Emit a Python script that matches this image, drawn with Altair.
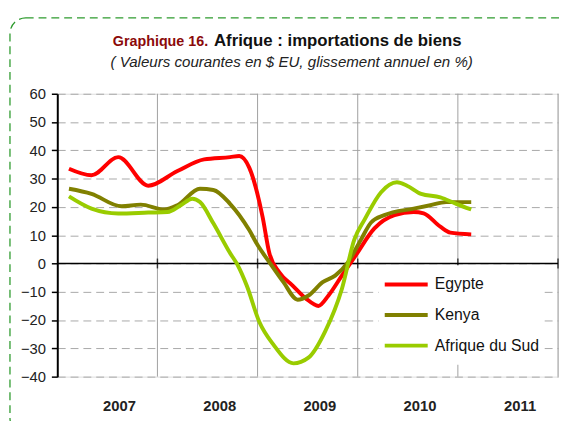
import altair as alt
import pandas as pd

# ---- data (x = months since Jan 2007, y = % yoy) ----
egypt_x = [1.4, 4.1, 7.3, 10.9, 14.4, 17.6, 20.7, 21.8, 23.0, 24.6, 25.4, 26.6, 28.2, 29.8, 31.3, 32.5, 34.1, 35.7, 38.0, 40.4, 42.7, 43.9, 45.9, 47.1, 49.6]
egypt_y = [33.5, 31.2, 37.6, 27.5, 32.7, 36.8, 37.6, 38.0, 33.9, 16.5, 3.8, -3.1, -7.8, -12.4, -15.0, -11.3, -4.3, 2.6, 12.4, 17.1, 18.2, 17.7, 13.0, 10.9, 10.3]

kenya_x = [1.4, 4.1, 7.7, 10.0, 12.8, 14.4, 17.1, 18.7, 20.7, 23.0, 24.0, 25.4, 27.1, 28.8, 30.1, 31.8, 33.3, 34.8, 36.4, 37.6, 39.2, 42.7, 44.7, 46.6, 49.6]
kenya_y = [26.4, 24.6, 20.2, 20.8, 19.1, 20.6, 26.4, 26.0, 21.1, 11.8, 6.5, 0.5, -6.6, -12.8, -11.3, -6.6, -4.3, 0.3, 8.5, 14.5, 17.1, 19.4, 20.6, 21.7, 21.7]

rsa_x = [1.4, 4.1, 7.3, 10.9, 13.2, 14.8, 16.2, 17.1, 18.7, 20.7, 21.6, 22.7, 24.2, 25.9, 28.3, 30.1, 32.1, 34.1, 35.6, 36.8, 38.8, 40.7, 41.9, 43.6, 45.9, 47.8, 49.6]
rsa_y = [23.7, 19.4, 17.7, 18.0, 18.2, 20.6, 22.9, 21.7, 14.2, 3.7, -0.5, -7.8, -20.6, -28.7, -35.3, -33.3, -24.0, -9.0, 8.5, 15.4, 25.2, 28.7, 27.5, 24.6, 23.4, 21.1, 19.1]

series_names = ["Egypte", "Kenya", "Afrique du Sud"]
series_colors = ["#FF0000", "#808000", "#99CC00"]

year_bounds = [12, 24, 36, 48, 60]
year_label_pos = [7.4, 19.4, 31.4, 43.4, 55.4]
y_ticks = [-40, -30, -20, -10, 0, 10, 20, 30, 40, 50, 60]

title_red = "Graphique 16."
title_black = "Afrique : importations de biens"
subtitle = "( Valeurs courantes en $ EU, glissement annuel en %)"

FONT = "Liberation Sans"

rows = []
for name, xs, ys in zip(series_names, [egypt_x, kenya_x, rsa_x], [egypt_y, kenya_y, rsa_y]):
    for a, b in zip(xs, ys):
        rows.append({"serie": name, "m": a, "v": b})
df = pd.DataFrame(rows)

xscale = alt.Scale(domain=[0, 60], nice=False, zero=False)
yscale = alt.Scale(domain=[-40, 60], nice=False, zero=False)

xaxis = alt.Axis(
    values=year_label_pos,
    labelExpr="'' + (2007 + floor(datum.value / 12))",
    grid=False,
    ticks=False,
    domain=False,
    labelFontSize=15,
    labelFontWeight="bold",
    labelColor="#222222",
    labelPadding=22,
    labelFont=FONT,
    labelOverlap=False,
    title=None,
)
yaxis = alt.Axis(
    values=y_ticks,
    grid=True,
    gridDash=[8, 5],
    gridColor="#a8a8a8",
    gridWidth=1,
    domainColor="black",
    domainWidth=2,
    tickColor="black",
    tickSize=6,
    tickWidth=1.5,
    labelFontSize=15,
    labelColor="#222222",
    labelPadding=6,
    labelFont=FONT,
    labelOverlap=False,
    title=None,
)

border = alt.Chart(pd.DataFrame({"a": [0]})).mark_rect(
    filled=False, stroke="#2E9B2E", strokeWidth=1.3, strokeDash=[8, 5], cornerRadius=16, clip=False
).encode(x=alt.value(-48), x2=alt.value(620), y=alt.value(-77), y2=alt.value(345))

vgrid = alt.Chart(pd.DataFrame({"b": year_bounds})).mark_rule(color="#a0a0a0", strokeWidth=1).encode(
    x=alt.X("b:Q", scale=xscale, axis=xaxis)
)

zero = alt.Chart(pd.DataFrame({"z": [0]})).mark_rule(color="black", strokeWidth=1.3).encode(
    y=alt.Y("z:Q", scale=yscale, axis=yaxis)
)

ticks = alt.Chart(pd.DataFrame({"b": year_bounds, "z": [0] * len(year_bounds)})).mark_tick(
    color="black", orient="vertical", size=10, thickness=1.5
).encode(x=alt.X("b:Q", scale=xscale, axis=xaxis), y=alt.Y("z:Q", scale=yscale, axis=yaxis))

lines = alt.Chart(df).mark_line(interpolate="monotone", strokeWidth=4).encode(
    x=alt.X("m:Q", scale=xscale, axis=xaxis),
    y=alt.Y("v:Q", scale=yscale, axis=yaxis),
    color=alt.Color(
        "serie:N",
        scale=alt.Scale(domain=series_names, range=series_colors),
        legend=alt.Legend(
            title=None,
            orient="none",
            legendX=326,
            legendY=174,
            fillColor="white",
            padding=4,
            symbolType="stroke",
            symbolStrokeWidth=4,
            symbolSize=1900,
            clipHeight=31,
            labelFontSize=16,
            labelFont=FONT,
            labelColor="#111111",
            labelOffset=5,
            rowPadding=0,
            labelLimit=300,
        ),
    ),
)

t1 = alt.Chart(pd.DataFrame({"t": [title_red]})).mark_text(
    align="right", baseline="alphabetic", font=FONT, fontSize=14.5, fontWeight="bold", color="#8B0A0A"
).encode(text="t:N", x=alt.value(153), y=alt.value(-48))

t2 = alt.Chart(pd.DataFrame({"t": [title_black]})).mark_text(
    align="left", baseline="alphabetic", font=FONT, fontSize=17, fontWeight="bold", color="#111111"
).encode(text="t:N", x=alt.value(159), y=alt.value(-48))

t3 = alt.Chart(pd.DataFrame({"t": [subtitle]})).mark_text(
    align="left", baseline="alphabetic", font=FONT, fontSize=15.3, fontStyle="italic", color="#222222"
).encode(text="t:N", x=alt.value(54), y=alt.value(-27))

chart = alt.layer(border, vgrid, zero, ticks, lines, t1, t2, t3).properties(
    width=508,
    height=287,
    autosize=alt.AutoSizeParams(type="none"),
    padding={"left": 50, "top": 84, "right": 1, "bottom": 42},
).configure_view(stroke="#8c8c8c", strokeWidth=2).configure(background="white")

chart.save("out.html", embed_options={"renderer": "svg", "actions": False})
